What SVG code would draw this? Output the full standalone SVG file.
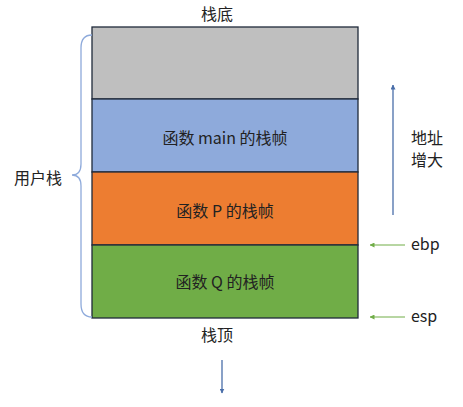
<svg xmlns="http://www.w3.org/2000/svg" width="463" height="407" viewBox="0 0 463 407">
<style>
text{font-family:"Microsoft YaHei","Noto Sans CJK SC","Noto Sans",sans-serif;font-size:16px;fill:#222;}
.mid{text-anchor:middle;dominant-baseline:central;}
.box{stroke:#1f2a3a;stroke-width:1.3;}
.blue{stroke:#4a6ea9;stroke-width:1.3;fill:none;}
.green{stroke:#70ad47;stroke-width:1;fill:none;}
</style>
<defs>
<marker id="ab" viewBox="0 0 10 10" refX="9" refY="5" markerWidth="5" markerHeight="5" orient="auto-start-reverse" markerUnits="userSpaceOnUse"><path d="M0,0L10,5L0,10z" fill="#4a6ea9"/></marker>
<marker id="ag" viewBox="0 0 10 10" refX="9" refY="5" markerWidth="5" markerHeight="5" orient="auto-start-reverse" markerUnits="userSpaceOnUse"><path d="M0,0L10,5L0,10z" fill="#70ad47"/></marker>
</defs>
<g id="bottom-block"><rect class="box" x="92" y="27" width="266" height="72" fill="#bfbfbf"/></g>
<g id="main-frame"><rect class="box" x="92" y="99" width="266" height="73" fill="#8eaadb"/><text class="mid" x="225" y="137">函数 main 的栈帧</text></g>
<g id="p-frame"><rect class="box" x="92" y="172" width="266" height="73" fill="#ed7d31"/><text class="mid" x="225" y="210">函数 P 的栈帧</text></g>
<g id="q-frame"><rect class="box" x="92" y="245" width="266" height="73" fill="#70ad47"/><text class="mid" x="225" y="281">函数 Q 的栈帧</text></g>
<g id="labels">
<text class="mid" x="217" y="13">栈底</text>
<text class="mid" x="217" y="334">栈顶</text>
<text class="mid" x="38" y="177">用户栈</text>
<text class="mid" x="427" y="137">地址</text>
<text class="mid" x="427" y="159">增大</text>
<text x="411" y="250">ebp</text>
<text x="411" y="322">esp</text>
</g>
<g id="connectors">
<path d="M92,35 C84,35 81,40 81,48 L81,164 C81,171 78,175 72,175 C78,175 81,179 81,186 L81,304 C81,312 84,317 92,317" fill="none" stroke="#8eaadb" stroke-width="1.3"/>
<line class="blue" x1="393" y1="215" x2="393" y2="85" marker-end="url(#ab)"/>
<line class="blue" x1="222" y1="360" x2="222" y2="393" marker-end="url(#ab)"/>
<line class="green" x1="405" y1="245" x2="370" y2="245" marker-end="url(#ag)"/>
<line class="green" x1="405" y1="317" x2="370" y2="317" marker-end="url(#ag)"/>
</g>
</svg>
